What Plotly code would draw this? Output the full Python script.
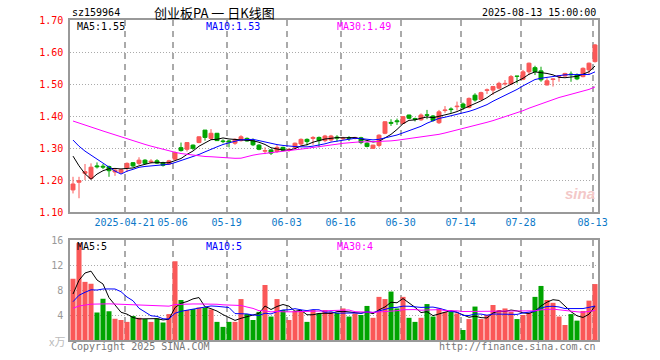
import plotly.graph_objects as go

# ---------------- data ----------------
tick_idx = [9, 17, 26, 36, 45, 55, 65, 75, 87]
tick_text = ["2025-04-21", "05-06", "05-19", "06-03", "06-16", "06-30", "07-14", "07-28", "08-13"]

open_ = [1.169, 1.193, 1.221, 1.205, 1.244, 1.243, 1.242, 1.225, 1.224, 1.239,
         1.254, 1.252, 1.262, 1.256, 1.260, 1.254, 1.250, 1.265, 1.301, 1.296,
         1.309, 1.317, 1.356, 1.330, 1.346, 1.322, 1.322, 1.315, 1.323, 1.330,
         1.323, 1.309, 1.290, 1.294, 1.289, 1.302, 1.293, 1.302, 1.3125, 1.327,
         1.330, 1.333, 1.323, 1.325, 1.334, 1.329, 1.332, 1.330, 1.332, 1.315,
         1.299, 1.308, 1.346, 1.380, 1.385, 1.377, 1.403, 1.392, 1.388, 1.404,
         1.400, 1.379, 1.417, 1.422, 1.429, 1.4375, 1.427, 1.465, 1.452, 1.480,
         1.481, 1.487, 1.500, 1.500, 1.525, 1.515, 1.538, 1.551, 1.541, 1.497,
         1.514, 1.524, 1.525, 1.531, 1.528, 1.523, 1.544, 1.570]
high = [1.210, 1.210, 1.250, 1.252, 1.255, 1.250, 1.245, 1.236, 1.234, 1.255,
        1.256, 1.271, 1.265, 1.265, 1.265, 1.257, 1.263, 1.289, 1.317, 1.317,
        1.311, 1.336, 1.356, 1.359, 1.347, 1.327, 1.325, 1.330, 1.340, 1.333,
        1.330, 1.312, 1.302, 1.296, 1.309, 1.304, 1.300, 1.317, 1.330, 1.330,
        1.337, 1.336, 1.341, 1.341, 1.340, 1.335, 1.337, 1.335, 1.335, 1.318,
        1.310, 1.343, 1.383, 1.390, 1.392, 1.398, 1.404, 1.395, 1.408, 1.419,
        1.403, 1.419, 1.431, 1.427, 1.445, 1.442, 1.458, 1.471, 1.476, 1.486,
        1.494, 1.507, 1.5125, 1.528, 1.525, 1.544, 1.567, 1.557, 1.554, 1.518,
        1.518, 1.528, 1.535, 1.539, 1.533, 1.552, 1.567, 1.625]
low = [1.158, 1.143, 1.200, 1.200, 1.236, 1.234, 1.210, 1.213, 1.219, 1.225,
       1.240, 1.247, 1.249, 1.252, 1.250, 1.242, 1.248, 1.262, 1.289, 1.289,
       1.294, 1.315, 1.323, 1.325, 1.322, 1.315, 1.302, 1.310, 1.320, 1.320,
       1.306, 1.293, 1.281, 1.278, 1.285, 1.290, 1.288, 1.299, 1.308, 1.308,
       1.310, 1.302, 1.318, 1.320, 1.320, 1.325, 1.322, 1.327, 1.312, 1.302,
       1.298, 1.302, 1.343, 1.369, 1.372, 1.376, 1.390, 1.383, 1.385, 1.390,
       1.382, 1.375, 1.410, 1.410, 1.417, 1.419, 1.424, 1.445, 1.450, 1.469,
       1.466, 1.483, 1.495, 1.497, 1.502, 1.512, 1.528, 1.528, 1.507, 1.495,
       1.492, 1.507, 1.523, 1.507, 1.512, 1.521, 1.528, 1.567]
close = [1.1875, 1.198, 1.226, 1.240, 1.241, 1.240, 1.229, 1.231, 1.232, 1.252,
         1.244, 1.262, 1.252, 1.259, 1.253, 1.246, 1.260, 1.285, 1.292, 1.317,
         1.299, 1.335, 1.333, 1.346, 1.323, 1.320, 1.319, 1.327, 1.335, 1.322,
         1.310, 1.296, 1.292, 1.284, 1.302, 1.293, 1.296, 1.315, 1.327, 1.320,
         1.333, 1.323, 1.3375, 1.3375, 1.331, 1.331, 1.330, 1.333, 1.317, 1.305,
         1.309, 1.340, 1.382, 1.377, 1.382, 1.398, 1.393, 1.389, 1.403, 1.402,
         1.386, 1.413, 1.419, 1.420, 1.431, 1.427, 1.455, 1.450, 1.473, 1.482,
         1.492, 1.502, 1.502, 1.523, 1.524, 1.538, 1.565, 1.539, 1.513, 1.510,
         1.516, 1.526, 1.533, 1.529, 1.516, 1.549, 1.565, 1.622]
volume = [9.8, 15.5, 9.3, 9.0, 4.4, 6.6, 4.6, 3.4, 3.2, 2.9,
          3.85, 3.55, 3.35, 2.9, 3.45, 2.8, 4.15, 12.6, 6.4, 4.8,
          4.95, 5.2, 5.2, 4.9, 2.9, 2.1, 2.9, 2.9, 6.55, 4.15,
          3.2, 4.5, 8.8, 3.75, 6.55, 4.8, 3.2, 4.65, 4.65, 2.9,
          4.8, 4.25, 4.8, 4.5, 4.35, 5.05, 3.75, 4.25, 4.0, 5.45,
          3.55, 6.9, 6.55, 7.75, 5.05, 6.9, 3.55, 2.9, 3.55, 5.75,
          3.75, 5.05, 4.5, 4.5, 4.25, 1.6, 3.35, 5.35, 3.35, 4.0,
          5.6, 4.8, 5.05, 4.5, 3.35, 4.0, 4.35, 6.9, 8.65, 6.4,
          5.95, 3.75, 2.4, 4.15, 3.1, 4.65, 6.3, 8.95]

# sessions before the visible window (estimated from where the MA lines start)
prior_close = [1.40, 1.41, 1.42, 1.43, 1.42, 1.41, 1.42, 1.43, 1.44, 1.43,
               1.42, 1.41, 1.42, 1.41, 1.40, 1.41, 1.40, 1.41, 1.40, 1.39,
               1.39, 1.38, 1.37, 1.37, 1.365, 1.35, 1.35, 1.326, 1.16]
prior_volume = [4.2, 5.1, 4.6, 3.9, 4.8, 5.3, 4.4, 4.0, 4.7, 5.0,
                4.3, 4.6, 4.1, 4.9, 4.5, 4.2, 4.8, 4.4, 4.6, 4.4,
                5.2, 4.6, 5.0, 4.8, 4.9, 4.5, 3.5, 7.5, 11.5]

price_ma_labels = ["MA5:1.55", "MA10:1.53", "MA30:1.49"]
vol_ma_labels = ["MA5:5", "MA10:5", "MA30:4"]
price_ticks = [1.10, 1.20, 1.30, 1.40, 1.50, 1.60, 1.70]
vol_ticks = [4, 8, 12, 16]

# ---------------- styling ----------------
RED = "#fa5858"
GREEN = "#00a400"
MA_COLORS = ["#000000", "#0000ff", "#ff00ff"]
MONO = "DejaVu Sans Mono"
CJK = "Noto Sans CJK SC"
W, H = 660, 360
L, R, T, B = 70, 598, 20, 340

n = len(close)
xs = list(range(n))
up = [c >= o for o, c in zip(open_, close)]
cols = [RED if u else GREEN for u in up]


def moving_average(values, prior, w):
    full = prior + values
    off = len(prior)
    return [sum(full[off + i - w + 1: off + i + 1]) / w for i in range(n)]


fig = go.Figure()

# candle bodies
fig.add_trace(go.Bar(
    x=xs, y=[abs(c - o) for o, c in zip(open_, close)],
    base=[min(o, c) for o, c in zip(open_, close)],
    width=0.66, marker=dict(color=cols, line=dict(color=cols, width=1)),
    xaxis="x", yaxis="y", hoverinfo="skip"))

# wicks
for flag, colr in ((True, RED), (False, GREEN)):
    wx, wy = [], []
    for i in range(n):
        if up[i] == flag:
            wx += [i, i, None]
            wy += [low[i], high[i], None]
    fig.add_trace(go.Scatter(x=wx, y=wy, mode="lines", line=dict(color=colr, width=1),
                             xaxis="x", yaxis="y", hoverinfo="skip"))

# price MAs
for w, colr in zip((5, 10, 30), MA_COLORS):
    fig.add_trace(go.Scatter(x=xs, y=moving_average(close, prior_close, w), mode="lines",
                             line=dict(color=colr, width=1), xaxis="x", yaxis="y",
                             hoverinfo="skip"))

# volume bars
fig.add_trace(go.Bar(x=xs, y=volume, width=0.84, marker=dict(color=cols, line=dict(width=0)),
                     xaxis="x2", yaxis="y2", hoverinfo="skip"))

# volume MAs
for w, colr in zip((5, 10, 30), MA_COLORS):
    fig.add_trace(go.Scatter(x=xs, y=moving_average(volume, prior_volume, w), mode="lines",
                             line=dict(color=colr, width=1), xaxis="x2", yaxis="y2",
                             hoverinfo="skip"))

pw, ph = R - L, B - T


def px_x(p):
    return (p - L) / pw


def px_y(p):
    return (B - p) / ph


anns = []


def ann(text, x, y, color, size=10, xanchor="left", family=MONO):
    anns.append(dict(text=text, x=px_x(x), y=px_y(y), xref="paper", yref="paper",
                     xanchor=xanchor, yanchor="middle", showarrow=False,
                     font=dict(family=family, size=size, color=color)))


ann("sz159964", 70, 13, "#000000")
ann("创业板PA 一 日K线图", 214, 12, "#000000", size=13, xanchor="center", family=CJK)
ann("2025-08-13 15:00:00", 598, 13, "#000000", xanchor="right")
for lab, xp, colr in zip(price_ma_labels, (75, 204, 335), MA_COLORS):
    ann(lab, xp, 26, colr)
for lab, xp, colr in zip(vol_ma_labels, (75, 204, 335), MA_COLORS):
    ann(lab, xp, 246, colr)
ann("x万", 57, 341, "#bbbbbb", size=11, xanchor="center", family=CJK)
ann("Copyright 2025 SINA.COM", 69, 346, "#777777")
ann("http://finance.sina.com.cn", 598, 346, "#777777", xanchor="right")
anns.append(dict(text="<b><i>sina</i></b>", x=px_x(597), y=px_y(193), xref="paper", yref="paper",
                 xanchor="right", yanchor="middle", showarrow=False,
                 font=dict(family="Liberation Sans", size=15, color="#f3c8c8")))

grid_x = dict(showgrid=True, gridcolor="#aaaaaa", griddash="6px,5px", gridwidth=1.5)
frame = dict(showline=True, mirror=True, linecolor="#999999", linewidth=1.5, zeroline=False,
             ticks="", fixedrange=True)

fig.update_layout(
    width=W, height=H, margin=dict(l=L, r=W - R, t=T, b=H - B),
    paper_bgcolor="white", plot_bgcolor="white", showlegend=False,
    barmode="overlay", hovermode=False, annotations=anns,
    xaxis=dict(domain=[0, 1], anchor="y", range=[-0.5, n - 0.5],
               tickmode="array", tickvals=[t - 0.4 for t in tick_idx], ticktext=tick_text,
               tickfont=dict(family=MONO, size=10, color="#0b78c8"), **grid_x, **frame),
    yaxis=dict(domain=[px_y(212), 1], anchor="x", range=[1.10, 1.70],
               tickmode="array", tickvals=price_ticks,
               ticktext=["%.2f" % v for v in price_ticks],
               tickfont=dict(family=MONO, size=10, color="#ff0000"), ticklabelstandoff=3,
               showgrid=True, gridcolor="#aaaaaa", griddash="1px,2px", gridwidth=1, **frame),
    xaxis2=dict(domain=[0, 1], anchor="y2", matches="x", showticklabels=False,
                tickmode="array", tickvals=[t - 0.4 for t in tick_idx], **grid_x, **frame),
    yaxis2=dict(domain=[0, px_y(240)], anchor="x2", range=[0, 16],
                tickmode="array", tickvals=vol_ticks, ticktext=[str(v) for v in vol_ticks],
                tickfont=dict(family=MONO, size=10, color="#999999"), ticklabelstandoff=3,
                showgrid=True, gridcolor="#aaaaaa", griddash="1px,2px", gridwidth=1, **frame),
)

fig.write_html("out.html", config={"displayModeBar": False},
               post_script="document.body.style.margin='0';document.body.style.overflow='hidden';")
